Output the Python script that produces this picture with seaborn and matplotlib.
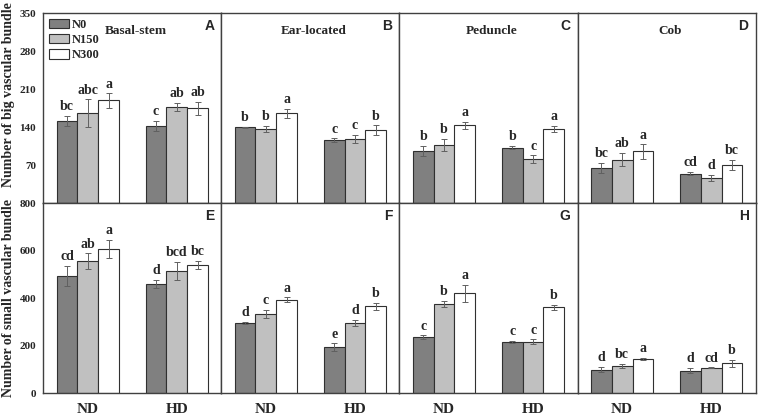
import numpy as np
import pandas as pd
import matplotlib.pyplot as plt
import seaborn as sns
from matplotlib.patches import Patch

sns.set_style("white")
plt.rcParams['font.family'] = ['Liberation Serif', 'DejaVu Serif']
plt.rcParams['font.weight'] = 'bold'

groups = ['ND', 'HD']
levels = ['N0', 'N150', 'N300']
colors = ['#808080', '#c0c0c0', '#ffffff']

titles = ['Basal-stem', 'Ear-located', 'Peduncle', 'Cob']
top_tags = ['A', 'B', 'C', 'D']
bottom_tags = ['E', 'F', 'G', 'H']

# order in every list: ND (N0, N150, N300), HD (N0, N150, N300)
big_mean = [
    [151, 166, 189, 142, 177, 175],
    [140, 136, 165, 116, 118, 134],
    [96, 107, 143, 102, 81, 136],
    [65, 80, 95, 54, 46, 70],
]
big_err = [
    [9, 25, 13, 9, 8, 12],
    [1, 6, 9, 3, 7, 9],
    [9, 11, 6, 3, 7, 6],
    [9, 12, 13, 3, 6, 9],
]
big_sig = [
    ['bc', 'abc', 'a', 'c', 'ab', 'ab'],
    ['b', 'b', 'a', 'c', 'c', 'b'],
    ['b', 'b', 'a', 'b', 'c', 'a'],
    ['bc', 'ab', 'a', 'cd', 'd', 'bc'],
]

small_mean = [
    [492, 555, 608, 460, 515, 541],
    [296, 334, 394, 193, 295, 366],
    [235, 376, 421, 217, 217, 361],
    [99, 115, 144, 95, 106, 126],
]
small_err = [
    [43, 33, 38, 17, 37, 17],
    [3, 17, 9, 16, 14, 15],
    [8, 12, 36, 4, 9, 12],
    [10, 8, 3, 10, 2, 14],
]
small_sig = [
    ['cd', 'ab', 'a', 'd', 'bcd', 'bc'],
    ['d', 'c', 'a', 'e', 'd', 'b'],
    ['c', 'b', 'a', 'c', 'c', 'b'],
    ['d', 'bc', 'a', 'd', 'cd', 'b'],
]


def draw_panel(ax, means, errs, sigs):
    d = pd.DataFrame({
        'group': np.repeat(groups, 3),
        'level': levels * 2,
        'value': means,
    })
    sns.barplot(data=d, x='group', y='value', hue='level', order=groups,
                hue_order=levels, palette=colors, saturation=1, width=0.7,
                edgecolor='#303030', linewidth=0.8, errorbar=None,
                legend=False, ax=ax)
    bar_sets = list(ax.containers)
    for i, cont in enumerate(bar_sets):
        for j, bar in enumerate(cont):
            k = j * 3 + i
            x = bar.get_x() + bar.get_width() / 2
            h = bar.get_height()
            ax.errorbar(x, h, yerr=errs[k], color='#606060', lw=0.7,
                        capsize=2, capthick=0.7)
            ax.annotate(sigs[k], (x, h + errs[k]), xytext=(0, 2),
                        textcoords='offset points', ha='center', va='bottom',
                        fontsize=10, fontweight='bold')
    ax.set_xlabel('')
    ax.set_ylabel('')
    ax.set_xlim(-0.5, 1.5)
    for s in ax.spines.values():
        s.set_color('#404040')
        s.set_linewidth(1)


fig = plt.figure(figsize=(7.58, 4.2), dpi=100)
gs = fig.add_gridspec(2, 4, left=0.057, right=0.997, top=0.969, bottom=0.064,
                      wspace=0, hspace=0)

for c in range(4):
    ax = fig.add_subplot(gs[0, c])
    draw_panel(ax, big_mean[c], big_err[c], big_sig[c])
    ax.set_ylim(0, 350)
    ax.set_yticks([70, 140, 210, 280, 350])
    ax.tick_params(axis='x', direction='in', length=3, labelbottom=False)
    ax.text(0.52, 0.905, titles[c], transform=ax.transAxes, ha='center',
            va='center', fontsize=9.5, fontweight='bold')
    ax.text(0.96, 0.93, top_tags[c], transform=ax.transAxes, ha='right',
            va='center', fontsize=10, fontweight='bold',
            family='Liberation Sans')
    if c == 0:
        ax.tick_params(axis='y', direction='out', length=3, labelsize=8, pad=2)
        handles = [Patch(facecolor=col, edgecolor='#303030', lw=0.8)
                   for col in colors]
        ax.legend(handles, levels, loc='upper left', frameon=False,
                  bbox_to_anchor=(-0.01, 1.01), borderaxespad=0.2,
                  handlelength=1.6, handleheight=0.8, labelspacing=0.25,
                  handletextpad=0.2, prop={'size': 9, 'weight': 'bold'})
    else:
        ax.tick_params(axis='y', left=False, labelleft=False)

for c in range(4):
    ax = fig.add_subplot(gs[1, c])
    draw_panel(ax, small_mean[c], small_err[c], small_sig[c])
    ax.set_ylim(0, 800)
    ax.set_yticks([0, 200, 400, 600, 800])
    ax.tick_params(axis='x', direction='in', length=3, labelsize=11, pad=7)
    ax.text(0.96, 0.93, bottom_tags[c], transform=ax.transAxes, ha='right',
            va='center', fontsize=10, fontweight='bold',
            family='Liberation Sans')
    if c == 0:
        ax.tick_params(axis='y', direction='out', length=3, labelsize=8, pad=2)
    else:
        ax.tick_params(axis='y', left=False, labelleft=False)

fig.text(0.011, 0.775, 'Number of big vascular bundle', rotation=90,
         ha='center', va='center', fontsize=10, fontweight='bold')
fig.text(0.011, 0.29, 'Number of small vascular bundle', rotation=90,
         ha='center', va='center', fontsize=10, fontweight='bold')

fig.savefig('out.png', dpi=100)
